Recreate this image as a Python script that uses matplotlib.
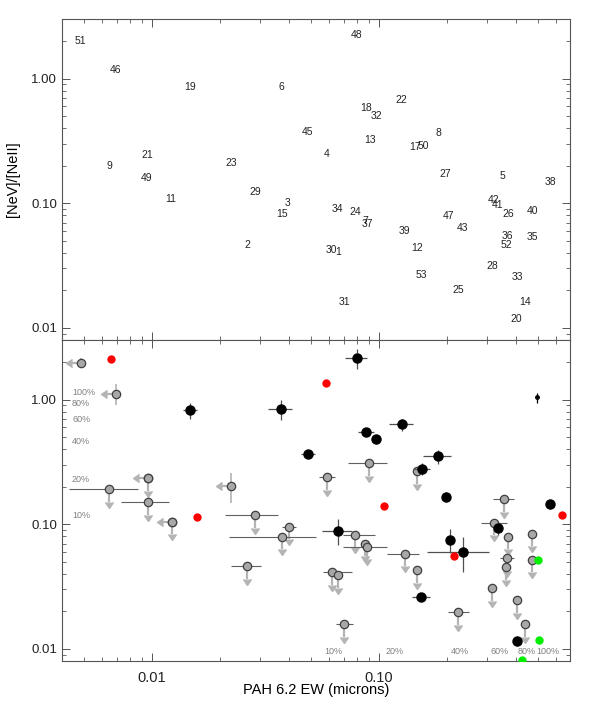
import numpy as np
import matplotlib.pyplot as plt
from matplotlib.ticker import LogLocator, FormatStrFormatter, NullFormatter

plt.rcParams['font.family'] = ['Liberation Sans', 'DejaVu Sans']

# ---- top panel: object numbers at (PAH EW, NeV/NeII)
ids = [51, 46, 19, 6, 45, 4, 21, 9, 23, 48, 22, 18, 32, 13, 8, 17, 50, 49, 11,
       29, 3, 15, 2, 27, 5, 38, 34, 24, 7, 37, 47, 42, 41, 26, 40, 39, 43, 36,
       35, 52, 30, 1, 12, 28, 53, 33, 25, 31, 14, 20]
id_x = [0.00482, 0.00694, 0.0147, 0.0370, 0.0486, 0.0590, 0.00951, 0.00647,
        0.0223, 0.080, 0.125, 0.0877, 0.0970, 0.0912, 0.182, 0.144, 0.156,
        0.00951, 0.0121, 0.0284, 0.0397, 0.0374, 0.0263, 0.195, 0.351, 0.566,
        0.0659, 0.0783, 0.0867, 0.0885, 0.203, 0.318, 0.331, 0.370, 0.476,
        0.129, 0.234, 0.366, 0.472, 0.362, 0.0615, 0.0659, 0.147, 0.315,
        0.153, 0.406, 0.223, 0.0702, 0.440, 0.402]
id_y = [2.01, 1.16, 0.847, 0.847, 0.370, 0.247, 0.242, 0.198, 0.209, 2.25,
        0.667, 0.575, 0.497, 0.319, 0.363, 0.281, 0.286, 0.158, 0.108, 0.122,
        0.100, 0.0817, 0.0461, 0.171, 0.164, 0.147, 0.0895, 0.0847, 0.0718,
        0.0679, 0.0787, 0.106, 0.0964, 0.0817, 0.0863, 0.0597, 0.0631,
        0.0545, 0.0535, 0.0461, 0.0421, 0.0406, 0.0437, 0.0313, 0.0265,
        0.0256, 0.0201, 0.0161, 0.0161, 0.0118]

# ---- bottom panel: detections (black)
det_x = [0.0147, 0.0370, 0.0487, 0.080, 0.126, 0.0877, 0.097, 0.182, 0.155,
         0.197, 0.567, 0.066, 0.205, 0.234, 0.153, 0.334, 0.405]
det_y = [0.817, 0.832, 0.365, 2.16, 0.632, 0.546, 0.480, 0.351, 0.277,
         0.166, 0.146, 0.0888, 0.0752, 0.0604, 0.026, 0.0938, 0.0116]
det_xerr = [0.00104, 0.0045, 0.0035, 0.0089, 0.0153, 0.0071, 0.0039, 0.0258,
            0.0126, 0.0, 0.0, 0.0100, 0.006, 0.071, 0.0140, 0.0, 0.0]
det_yerr = [0.120, 0.153, 0.020, 0.40, 0.070, 0.030, 0.044, 0.045, 0.030,
            0.015, 0.0134, 0.0212, 0.0166, 0.0188, 0.0014, 0.012, 0.0011]
# one faint detection with tiny marker
small_x = [0.497]
small_y = [1.04]
small_yerr = [0.095]

# upper limits on NeV (grey, down arrows); nan = no EW bar
ulim_x = [0.0096, 0.00647, 0.0096, 0.059, 0.0904, 0.147, 0.355, 0.01225,
          0.02843, 0.0401, 0.0374, 0.0262, 0.0784, 0.0868, 0.0885, 0.130,
          0.147, 0.0621, 0.066, 0.0701, 0.223, 0.315, 0.321, 0.370, 0.472,
          0.366, 0.362, 0.472, 0.405, 0.440]
ulim_y = [0.235, 0.192, 0.151, 0.239, 0.309, 0.267, 0.160, 0.1047, 0.119,
          0.0955, 0.0795, 0.0459, 0.0825, 0.0699, 0.0662, 0.0582, 0.0426,
          0.0411, 0.0389, 0.0158, 0.0197, 0.0306, 0.1028, 0.0795, 0.084,
          0.0531, 0.045, 0.0521, 0.0246, 0.0158]
ulim_xlo = [np.nan, 0.00431, 0.0073, 0.0544, 0.0730, 0.142, 0.319, np.nan,
            0.0210, 0.0375, 0.0218, 0.0223, 0.0694, np.nan, 0.0694, 0.1085,
            np.nan, 0.0567, np.nan, 0.0647, 0.2014, np.nan, 0.2814, np.nan,
            np.nan, 0.341, np.nan, np.nan, np.nan, np.nan]
ulim_xhi = [np.nan, 0.00868, 0.01188, 0.0640, 0.1084, 0.152, 0.393, np.nan,
            0.0359, 0.0430, 0.0528, 0.0302, 0.0960, np.nan, 0.1084, 0.150,
            np.nan, 0.0760, np.nan, 0.0768, 0.249, np.nan, 0.3664, np.nan,
            np.nan, 0.391, np.nan, np.nan, np.nan, np.nan]

# upper limits on PAH EW (grey, left arrows)
xlim_x = [0.00487, 0.00694, 0.0096, 0.02228, 0.01225]
xlim_y = [1.97, 1.116, 0.235, 0.203, 0.1047]
xlim_yerr = [0.18, 0.205, 0.0, 0.056, 0.0]

red_x = [0.0066, 0.0584, 0.01578, 0.1052, 0.214, 0.640]
red_y = [2.12, 1.366, 0.1148, 0.1404, 0.0551, 0.119]
green_x = [0.502, 0.507, 0.4265]
green_y = [0.0521, 0.0118, 0.0082]

pct_labels = ['100%', '80%', '60%', '40%', '20%', '10%']
pct_left_y = [1.137, 0.929, 0.693, 0.463, 0.230, 0.117]
pct_bottom_x = [0.0627, 0.1177, 0.2274, 0.341, 0.449, 0.555]
pct_bottom_labels = ['10%', '20%', '40%', '60%', '80%', '100%']

frame = '#555555'
arrow_grey = '#b4b4b4'
fig = plt.figure(figsize=(5.89, 7.01), dpi=100)
ax1 = fig.add_axes([62/589, 1-340/701, 508/589, 321/701])
ax2 = fig.add_axes([62/589, 1-661/701, 508/589, 321/701])

for ax in (ax1, ax2):
    ax.set_xscale('log')
    ax.set_yscale('log')
    ax.set_xlim(0.00402, 0.693)
    ax.set_ylim(0.008, 3.0)
    ax.yaxis.set_major_locator(LogLocator(base=10, numticks=10))
    ax.yaxis.set_major_formatter(FormatStrFormatter('%.2f'))
    ax.xaxis.set_major_formatter(FormatStrFormatter('%.2f'))
    ax.yaxis.set_minor_formatter(NullFormatter())
    ax.xaxis.set_minor_formatter(NullFormatter())
    ax.tick_params(which='both', direction='in', top=True, right=True,
                   color=frame, labelsize=9.5, labelcolor='#222222')
    ax.tick_params(which='major', length=6, width=0.7)
    ax.tick_params(which='minor', length=3, width=0.6)
    for s in ax.spines.values():
        s.set_color(frame)
        s.set_linewidth(0.8)

ax1.tick_params(labelbottom=False)
ax2.tick_params(axis='x', labelsize=10.5, pad=7)

for n, x, y in zip(ids, id_x, id_y):
    ax1.text(x, y, str(n), ha='center', va='center', fontsize=7.5,
             color='#222222')

ax1.set_ylabel('[NeV]/[NeII]', fontsize=10.5, labelpad=8)
ax2.set_xlabel('PAH 6.2 EW (microns)', fontsize=10.5, labelpad=-1)

# EW bars of the upper limits
ux = np.array(ulim_x)
uy = np.array(ulim_y)
ulo = np.array(ulim_xlo)
uhi = np.array(ulim_xhi)
has_bar = ~np.isnan(ulo)
ax2.errorbar(ux[has_bar], uy[has_bar],
             xerr=[ux[has_bar] - ulo[has_bar], uhi[has_bar] - ux[has_bar]],
             fmt='none', ecolor='#606060', elinewidth=0.8, zorder=2)
# down arrows
ax2.errorbar(ux, uy, yerr=uy * 0.21, uplims=True, fmt='none',
             color=arrow_grey, ecolor=arrow_grey, elinewidth=1.6,
             capsize=2.8, zorder=1)
# left arrows
xx = np.array(xlim_x)
ax2.errorbar(xx, xlim_y, xerr=xx * 0.085, xuplims=True, fmt='none',
             color=arrow_grey, ecolor=arrow_grey, elinewidth=1.6,
             capsize=2.8, zorder=1)
ax2.errorbar(xx, xlim_y, yerr=xlim_yerr, fmt='none', color=arrow_grey,
             ecolor=arrow_grey, elinewidth=1.2, zorder=1)
ax2.plot(np.concatenate([ux, xx]), np.concatenate([uy, xlim_y]), 'o',
         ms=6, mfc='#a8a8a8', mec='#404040', mew=0.9, zorder=3)

# detections
ax2.errorbar(det_x, det_y, xerr=det_xerr, yerr=det_yerr, fmt='o', ms=6.5,
             mfc='black', mec='black', ecolor='#505050', elinewidth=0.9,
             zorder=4)
ax2.errorbar(small_x, small_y, yerr=small_yerr, fmt='o', ms=2.5, color='black',
             elinewidth=0.9, zorder=4)

ax2.plot(red_x, red_y, 'o', ms=6, color='#ff0000', mec='none', zorder=5)
ax2.plot(green_x, green_y, 'o', ms=6, color='#00ee00', mec='none', zorder=5)

for lab, y in zip(pct_labels, pct_left_y):
    ax2.text(0.00445, y, lab, ha='left', va='center', fontsize=6.5,
             color='#808080')
for lab, x in zip(pct_bottom_labels, pct_bottom_x):
    ax2.text(x, 0.00946, lab, ha='center', va='center', fontsize=6.5,
             color='#808080')

fig.savefig('out.png', dpi=100)
